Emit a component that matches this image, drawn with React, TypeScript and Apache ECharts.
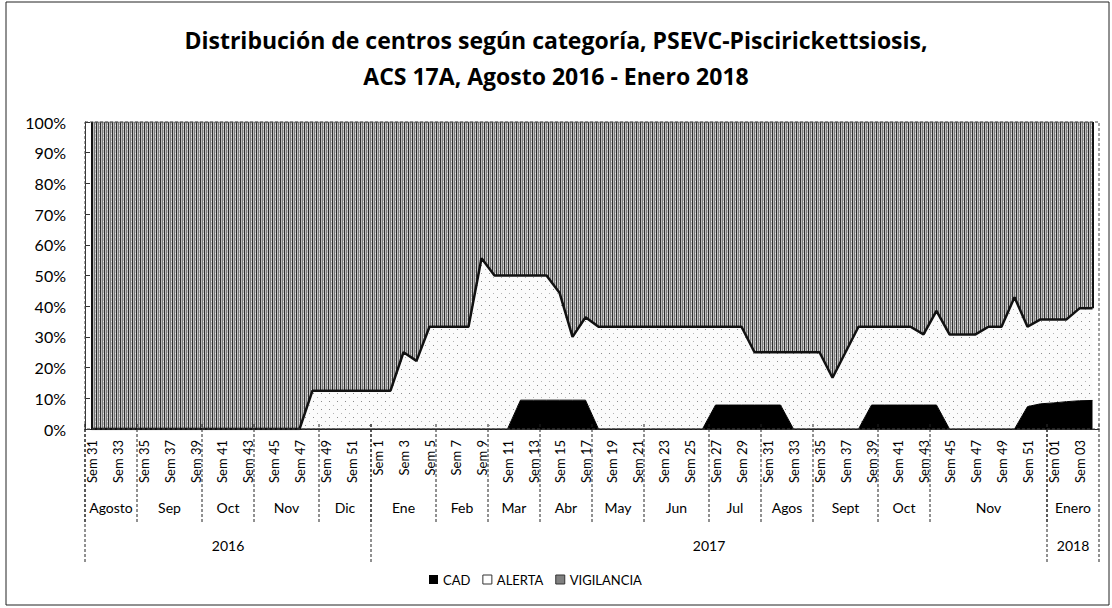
import React, { useEffect, useRef } from "react";
import * as echarts from "echarts";

// ---------- data ----------
const weeks2016 = [31, 32, 33, 34, 35, 36, 37, 38, 39, 40, 41, 42, 43, 44, 45, 46, 47, 48, 49, 50, 51, 52];
const weeks2017 = [
  1, 2, 3, 4, 5, 6, 7, 8, 9, 10, 11, 12, 13, 14, 15, 16, 17, 18, 19, 20, 21, 22, 23, 24, 25, 26,
  27, 28, 29, 30, 31, 32, 33, 34, 35, 36, 37, 38, 39, 40, 41, 42, 43, 44, 45, 46, 47, 48, 49, 50, 51, 52,
];
const weeks2018 = ["01", "02", "03", "04"];

const categories = [
  ...weeks2016.map((w) => `Sem ${w}`),
  ...weeks2017.map((w) => `Sem ${w}`),
  ...weeks2018.map((w) => `Sem ${w}`),
];

const monthLabels = ["Agosto", "Sep", "Oct", "Nov", "Dic", "Ene", "Feb", "Mar", "Abr", "May", "Jun", "Jul", "Agos", "Sept", "Oct", "Nov", "Enero"];
const monthWeeks = [4, 5, 4, 5, 4, 5, 4, 4, 4, 4, 5, 4, 4, 5, 4, 9, 4];
const yearLabels = ["2016", "2017", "2018"];
const yearWeeks = [22, 52, 4];

// percentages per week
const cad = [
  // 2016
  0, 0, 0, 0, 0, 0, 0, 0, 0, 0, 0, 0, 0, 0, 0, 0, 0, 0, 0, 0, 0, 0,
  // 2017
  0, 0, 0, 0, 0, 0, 0, 0, 0, 0, 0,
  9.4, 9.4, 9.4, 9.4, 9.4, 9.4,
  0, 0, 0, 0, 0, 0, 0, 0, 0,
  7.8, 7.8, 7.8, 7.8, 7.8, 7.8,
  0, 0, 0, 0, 0, 0,
  7.8, 7.8, 7.8, 7.8, 7.8, 7.8,
  0, 0, 0, 0, 0, 0,
  7.3, 8.2,
  // 2018
  8.5, 8.9, 9.2, 9.3,
];

const alerta = [
  // 2016
  0, 0, 0, 0, 0, 0, 0, 0, 0, 0, 0, 0, 0, 0, 0, 0, 0, 12.5, 12.5, 12.5, 12.5, 12.5,
  // 2017
  12.5, 12.5, 25, 22.2, 33.3, 33.3, 33.3, 33.3, 55.6, 50, 50,
  40.6, 40.6, 40.6, 35.0, 20.6, 27.0,
  33.3, 33.3, 33.3, 33.3, 33.3, 33.3, 33.3, 33.3, 33.3,
  25.5, 25.5, 25.5, 17.2, 17.2, 17.2,
  25, 25, 25, 16.7, 25, 33.3,
  25.5, 25.5, 25.5, 25.5, 23.0, 30.7,
  30.8, 30.8, 30.8, 33.3, 33.3, 42.9,
  26.0, 27.5,
  // 2018
  27.2, 26.8, 30.1, 30.0,
];

const vigilancia = [
  // 2016
  100, 100, 100, 100, 100, 100, 100, 100, 100, 100, 100, 100, 100, 100, 100, 100, 100, 87.5, 87.5, 87.5, 87.5, 87.5,
  // 2017
  87.5, 87.5, 75, 77.8, 66.7, 66.7, 66.7, 66.7, 44.4, 50, 50,
  50, 50, 50, 55.6, 70, 63.6,
  66.7, 66.7, 66.7, 66.7, 66.7, 66.7, 66.7, 66.7, 66.7,
  66.7, 66.7, 66.7, 75, 75, 75,
  75, 75, 75, 83.3, 75, 66.7,
  66.7, 66.7, 66.7, 66.7, 69.2, 61.5,
  69.2, 69.2, 69.2, 66.7, 66.7, 57.1,
  66.7, 64.3,
  // 2018
  64.3, 64.3, 60.7, 60.7,
];

// ---------- layout ----------
const W = 1112;
const H = 608;
const plotLeft = 85;
const plotRight = 1099;
const plotTop = 122;
const plotBottom = 429;
const FONT = "Lato, 'Noto Sans', sans-serif";
const TITLE_FONT = "'Open Sans', Lato, sans-serif";

function tile(w: number, h: number, draw: (ctx: CanvasRenderingContext2D) => void) {
  const c = document.createElement("canvas");
  c.width = w;
  c.height = h;
  const ctx = c.getContext("2d") as CanvasRenderingContext2D;
  draw(ctx);
  return c.toDataURL();
}

function buildGraphics() {
  const n = categories.length;
  const band = (plotRight - plotLeft) / n;
  const g: any[] = [];
  const sep = (x: number, y2: number) =>
    g.push({
      type: "line",
      z: 50,
      shape: { x1: x, y1: plotBottom - 5, x2: x, y2 },
      style: { stroke: "#222", lineWidth: 1, lineDash: [3, 2] },
    });
  // months
  let k = 0;
  monthLabels.forEach((m, i) => {
    const x0 = plotLeft + k * band;
    const x1 = plotLeft + (k + monthWeeks[i]) * band;
    sep(x0, 522);
    g.push({
      type: "text",
      z: 50,
      x: (x0 + x1) / 2,
      y: 507,
      style: { text: m, fill: "#000", fontSize: 14, fontFamily: FONT, align: "center", verticalAlign: "middle" },
    });
    k += monthWeeks[i];
  });
  // years
  k = 0;
  yearLabels.forEach((yl, i) => {
    const x0 = plotLeft + k * band;
    const x1 = plotLeft + (k + yearWeeks[i]) * band;
    sep(x0, 562);
    g.push({
      type: "text",
      z: 50,
      x: (x0 + x1) / 2,
      y: 545,
      style: { text: yl, fill: "#000", fontSize: 14, fontFamily: FONT, align: "center", verticalAlign: "middle" },
    });
    k += yearWeeks[i];
  });
  sep(plotRight, 562);
  // plot frame
  g.push({
    type: "rect",
    z: 60,
    shape: { x: plotLeft, y: plotTop, width: plotRight - plotLeft, height: plotBottom - plotTop },
    style: { fill: "none", stroke: "#444", lineWidth: 1, lineDash: [3, 2] },
  });
  // outer frame
  g.push({
    type: "rect",
    z: 60,
    shape: { x: 6, y: 2, width: W - 9, height: H - 5 },
    style: { fill: "none", stroke: "#222", lineWidth: 1 },
  });
  return g;
}

export default function App() {
  const ref = useRef<HTMLDivElement>(null);

  useEffect(() => {
    if (!ref.current) return;
    const chart = echarts.init(ref.current, undefined, { renderer: "svg" });

    const vigTile = tile(4, 4, (ctx) => {
      ctx.fillStyle = "#bdbdbd";
      ctx.fillRect(0, 0, 4, 4);
      ctx.fillStyle = "#2e2e2e";
      ctx.fillRect(0, 0, 1, 4);
      ctx.fillStyle = "#7a7a7a";
      ctx.fillRect(2, 0, 1, 4);
      ctx.fillStyle = "#e4e4e4";
      ctx.fillRect(3, 1, 1, 1);
    });
    const alTile = tile(8, 8, (ctx) => {
      ctx.fillStyle = "#fbfbfb";
      ctx.fillRect(0, 0, 8, 8);
      ctx.fillStyle = "#8c8c8c";
      ctx.fillRect(1, 1, 1, 1);
      ctx.fillStyle = "#b4b4b4";
      ctx.fillRect(5, 5, 1, 1);
    });

    const last = categories.length - 1;
    const topAlert = cad[last] + alerta[last];

    chart.setOption({
      animation: false,
      backgroundColor: "#fff",
      title: {
        text: "Distribución de centros según categoría, PSEVC-Piscirickettsiosis,\nACS 17A, Agosto 2016 - Enero 2018",
        left: "center",
        top: 17,
        textStyle: { fontSize: 23, fontWeight: "bold", fontFamily: TITLE_FONT, color: "#000", lineHeight: 36 },
      },
      legend: {
        top: 568,
        left: 424,
        icon: "rect",
        itemWidth: 9,
        itemHeight: 9,
        itemGap: 12,
        textStyle: { fontSize: 13, fontFamily: FONT, color: "#000" },
        data: [
          { name: "CAD", itemStyle: { color: "#000", borderWidth: 0 } },
          { name: "ALERTA", itemStyle: { color: "#fff", borderColor: "#333", borderWidth: 1 } },
          { name: "VIGILANCIA", itemStyle: { color: "#808080", borderColor: "#333", borderWidth: 1 } },
        ],
      },
      grid: { left: plotLeft, right: W - plotRight, top: plotTop, bottom: H - plotBottom, containLabel: false },
      xAxis: {
        type: "category",
        data: categories,
        boundaryGap: true,
        axisLine: { show: true, lineStyle: { color: "#222" } },
        axisTick: { show: false },
        axisLabel: { interval: 1, rotate: 90, margin: 11, fontSize: 13, fontFamily: FONT, color: "#000" },
        splitLine: { show: false },
      },
      yAxis: {
        type: "value",
        min: 0,
        max: 100,
        interval: 10,
        axisLine: { show: true, lineStyle: { color: "#333" } },
        axisTick: { show: true, inside: true, length: 5, lineStyle: { color: "#333" } },
        axisLabel: { formatter: "{value}%", fontSize: 16, fontFamily: FONT, color: "#000", margin: 19 },
        splitLine: { show: false },
      },
      series: [
        {
          name: "CAD",
          type: "line",
          stack: "total",
          data: cad,
          symbol: "none",
          itemStyle: { color: "#000" },
          lineStyle: { color: "#000", width: 1 },
          areaStyle: { color: "#000", opacity: 1 },
        },
        {
          name: "ALERTA",
          type: "line",
          stack: "total",
          data: alerta,
          symbol: "none",
          itemStyle: { color: "#fff" },
          lineStyle: { color: "#111", width: 2.5 },
          areaStyle: { color: { image: alTile, repeat: "repeat", imageWidth: 8, imageHeight: 8 }, opacity: 1 },
        },
        {
          name: "VIGILANCIA",
          type: "line",
          stack: "total",
          data: vigilancia,
          symbol: "none",
          itemStyle: { color: "#808080" },
          lineStyle: { color: "#777", width: 1 },
          areaStyle: { color: { image: vigTile, repeat: "repeat", imageWidth: 4, imageHeight: 4 }, opacity: 1 },
          markLine: {
            silent: true,
            symbol: ["none", "none"],
            label: { show: false },
            lineStyle: { color: "#111", width: 2, type: "solid" },
            data: [
              [{ coord: [0, 0] }, { coord: [0, 100] }],
              [{ coord: [last, topAlert] }, { coord: [last, 100] }],
            ],
          },
        },
      ],
      graphic: buildGraphics(),
    });

    return () => chart.dispose();
  }, []);

  return (
    <div
      ref={ref}
      style={{ position: "fixed", left: 0, top: 0, width: W, height: H, background: "#fff" }}
    />
  );
}
